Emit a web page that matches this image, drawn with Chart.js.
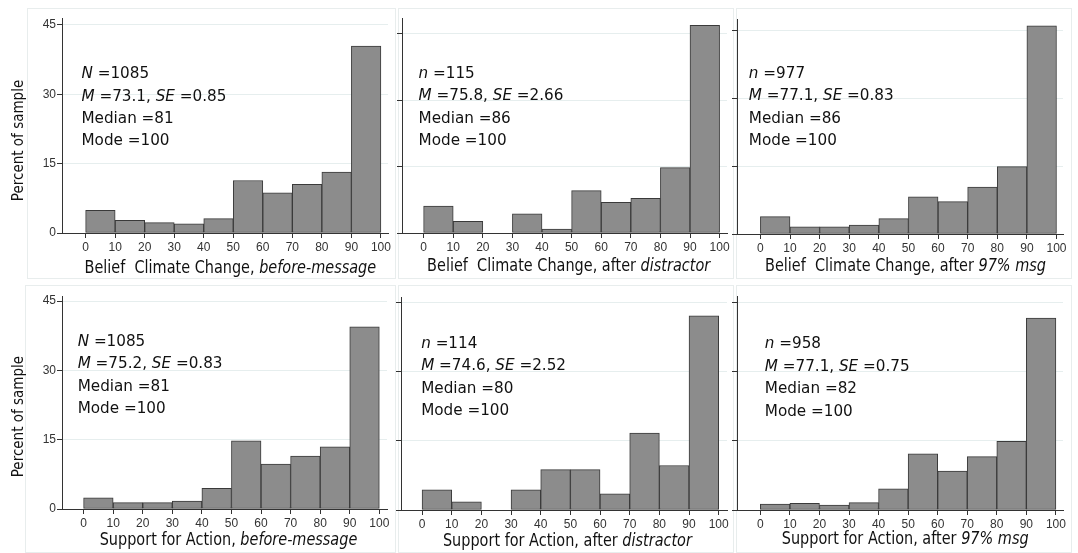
<!DOCTYPE html>
<html>
<head>
<meta charset="utf-8">
<script src="https://cdn.jsdelivr.net/npm/chart.js@4.4.1/dist/chart.umd.min.js"></script>
<style>
  html, body { margin: 0; padding: 0; background: #fff; }
  #page { position: relative; width: 1078px; height: 553px; overflow: hidden; background: #fff; }
  .box { position: absolute; border: 1px solid #e8eded; box-sizing: border-box; }
  canvas { position: absolute; }
</style>
</head>
<body>
<div id="page"></div>
<script>
// histogram bins (width 10) and axis ticks
const binCenters = [5, 15, 25, 35, 45, 55, 65, 75, 85, 95];
const xTicks = [0, 10, 20, 30, 40, 50, 60, 70, 80, 90, 100];
const yTicks = [0, 15, 30, 45];

// percent of sample in each bin
const beliefBefore      = [4.9, 2.75, 2.25, 2.0, 3.1, 11.35, 8.67, 10.55, 13.15, 40.45];
const beliefDistractor  = [6.09, 2.61, 0, 4.35, 0.87, 9.57, 6.96, 7.83, 14.78, 46.96];
const beliefConsensus   = [3.83, 1.6, 1.6, 2.0, 3.4, 8.25, 7.15, 10.4, 14.9, 46.1];
const supportBefore     = [2.4, 1.37, 1.37, 1.73, 4.45, 14.75, 9.72, 11.45, 13.45, 39.45];
const supportDistractor = [4.39, 1.75, 0, 4.39, 8.77, 8.77, 3.51, 16.67, 9.65, 42.11];
const supportConsensus  = [1.3, 1.45, 1.08, 1.6, 4.6, 12.2, 8.45, 11.6, 14.9, 41.7];

// summary stats printed in each panel
const sampleSymbols = ['N', 'n', 'n', 'N', 'n', 'n'];
const sampleSizes = [1085, 115, 977, 1085, 114, 958];
const means = ['73.1', '75.8', '77.1', '75.2', '74.6', '77.1'];
const stdErrors = ['0.85', '2.66', '0.83', '0.83', '2.52', '0.75'];
const medians = [81, 86, 86, 81, 80, 82];
const modes = [100, 100, 100, 100, 100, 100];

// x-axis titles: plain part + italic part
const titleStarts = [
  'Belief  Climate Change, ', 'Belief  Climate Change, after ', 'Belief  Climate Change, after ',
  'Support for Action, ', 'Support for Action, after ', 'Support for Action, after '
];
const titleItalics = ['before-message', 'distractor', '97% msg', 'before-message', 'distractor', '97% msg'];
const yTitle = 'Percent of sample';

const series = [beliefBefore, beliefDistractor, beliefConsensus, supportBefore, supportDistractor, supportConsensus];

// plot-area placement of each panel (page pixels) and axis ranges
const panels = [
  { left: 62,  right: 388,  top: 18,  bottom: 233, xMin: -8.0, xMax: 102.4, yMax: 46.5, tx: -1.4, ty: 34.4, showY: true,  titleDy: 36 },
  { left: 402, right: 727,  top: 18,  bottom: 233, xMin: -7.3, xMax: 102.5, yMax: 48.6, tx: -1.7, ty: 36.0, showY: false, titleDy: 34 },
  { left: 737, right: 1063, top: 19,  bottom: 234, xMin: -7.9, xMax: 102.2, yMax: 47.6, tx: -3.9, ty: 35.5, showY: false, titleDy: 33 },
  { left: 62,  right: 387,  top: 296, bottom: 509, xMin: -7.3, xMax: 102.6, yMax: 46.1, tx: -2.0, ty: 36.2, showY: true,  titleDy: 32 },
  { left: 401, right: 727,  top: 297, bottom: 510, xMin: -7.1, xMax: 102.8, yMax: 46.2, tx: -0.3, ty: 36.1, showY: false, titleDy: 31.5 },
  { left: 737, right: 1063, top: 296, bottom: 510, xMin: -7.9, xMax: 102.4, yMax: 46.5, tx: 1.5,  ty: 36.0, showY: false, titleDy: 30 }
];

// faint frames around each sub-graph
const frames = [
  [27, 8, 396, 279], [398, 8, 734, 279], [736, 8, 1072, 279],
  [25, 285, 396, 553], [398, 285, 734, 553], [736, 285, 1072, 553]
];

const TEXT_FONT = "'DejaVu Sans', 'Liberation Sans', sans-serif";
const TICK_FONT = "'Liberation Sans', Arial, sans-serif";

function fontStr(italic, size) {
  return (italic ? 'italic ' : '') + size + 'px ' + TEXT_FONT;
}

// draws a line made of [text, italic] pieces, squeezed horizontally
function drawRich(ctx, pieces, x, y, size, squeeze, centered, angle) {
  ctx.save();
  ctx.translate(x, y);
  if (angle) ctx.rotate(angle);
  ctx.scale(squeeze, 1);
  ctx.textBaseline = 'middle';
  ctx.textAlign = 'left';
  ctx.fillStyle = '#111';
  const widths = pieces.map(([t, it]) => { ctx.font = fontStr(it, size); return ctx.measureText(t).width; });
  const total = widths.reduce((a, b) => a + b, 0);
  let cx = centered ? -total / 2 : 0;
  pieces.forEach(([t, it], i) => {
    ctx.font = fontStr(it, size);
    ctx.fillText(t, cx, 0);
    cx += widths[i];
  });
  ctx.restore();
}

const panelText = {
  id: 'panelText',
  afterDraw(chart, args, opts) {
    const { ctx, chartArea, scales } = chart;
    // stats box
    const x0 = scales.x.getPixelForValue(opts.tx);
    const y0 = scales.y.getPixelForValue(opts.ty);
    opts.lines.forEach((line, i) => drawRich(ctx, line, x0, y0 + i * 22.4, 16, 0.95, false));
    // x-axis title
    const tx = scales.x.getPixelForValue(49);
    drawRich(ctx, opts.title, tx, chartArea.bottom + opts.titleDy, 17, 0.85, true);
    // y-axis title
    if (opts.showY) {
      drawRich(ctx, [[yTitle, false]], chartArea.left - 43, scales.y.getPixelForValue(20), 15, 0.9, true, -Math.PI / 2);
    }
  }
};

const page = document.getElementById('page');

frames.forEach(([x1, y1, x2, y2]) => {
  const d = document.createElement('div');
  d.className = 'box';
  d.style.left = x1 + 'px'; d.style.top = y1 + 'px';
  d.style.width = (x2 - x1) + 'px'; d.style.height = (y2 - y1) + 'px';
  page.appendChild(d);
});

panels.forEach((p, k) => {
  const L = p.showY ? p.left : 12;
  const T = 12, R = 14, B = 48;
  const cv = document.createElement('canvas');
  const w = (p.right - p.left) + L + R;
  const h = (p.bottom - p.top) + T + B;
  cv.width = w; cv.height = h;
  cv.style.left = (p.left - L) + 'px';
  cv.style.top = (p.top - T) + 'px';
  cv.style.width = w + 'px'; cv.style.height = h + 'px';
  page.appendChild(cv);

  const lines = [
    [[sampleSymbols[k], true], [' =' + sampleSizes[k], false]],
    [['M', true], [' =' + means[k] + ', ', false], ['SE', true], [' =' + stdErrors[k], false]],
    [['Median =' + medians[k], false]],
    [['Mode =' + modes[k], false]]
  ];

  new Chart(cv.getContext('2d'), {
    type: 'bar',
    data: {
      datasets: [{
        data: binCenters.map((c, i) => ({ x: c, y: series[k][i] })),
        backgroundColor: '#8c8c8c',
        borderColor: '#3a3a3a',
        borderWidth: 1,
        borderSkipped: false,
        barPercentage: 1,
        categoryPercentage: 1
      }]
    },
    options: {
      responsive: false,
      animation: false,
      events: [],
      layout: { padding: { left: 0, top: T, right: R, bottom: 0 } },
      scales: {
        x: {
          type: 'linear',
          min: p.xMin, max: p.xMax,
          offset: false,
          afterBuildTicks: s => { s.ticks = xTicks.map(v => ({ value: v })); },
          afterFit: s => { s.height = B; },
          grid: { offset: false, drawOnChartArea: false, drawTicks: true, tickLength: 5, tickColor: '#333' },
          border: { color: '#333', width: 1 },
          ticks: { font: { family: TICK_FONT, size: 12 }, color: '#333', padding: 2, maxRotation: 0, autoSkip: false }
        },
        y: {
          type: 'linear',
          min: 0, max: p.yMax,
          afterBuildTicks: s => { s.ticks = yTicks.map(v => ({ value: v })); },
          afterFit: s => { s.width = L; },
          grid: { color: '#e6eeee', drawTicks: true, tickLength: 5, tickColor: '#333' },
          border: { color: '#333', width: 1 },
          ticks: { display: p.showY, font: { family: TICK_FONT, size: 12 }, color: '#333', padding: 1 }
        }
      },
      plugins: {
        legend: { display: false },
        tooltip: { enabled: false },
        panelText: {
          tx: p.tx, ty: p.ty, lines: lines, showY: p.showY, titleDy: p.titleDy,
          title: [[titleStarts[k], false], [titleItalics[k], true]]
        }
      }
    },
    plugins: [panelText]
  });
});
</script>
</body>
</html>
